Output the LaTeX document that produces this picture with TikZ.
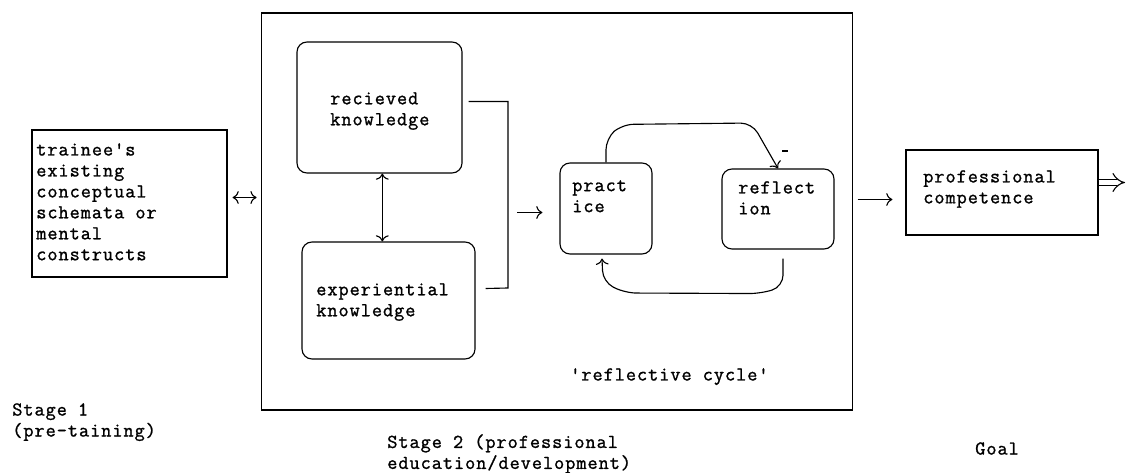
\documentclass[tikz,border=0pt]{standalone}
\usepackage{fontspec}
\newfontfamily\boxfont[LetterSpace=5, FakeBold=1.2]{Latin Modern Mono}
\usetikzlibrary{arrows.meta, positioning}

\tikzset{
  plainbox/.style={draw, line width=0.8pt, inner sep=0pt},
  roundbox/.style={plainbox, rounded corners=0.25cm},
  boxtext/.style={anchor=north west, inner sep=0pt, align=left,
    font=\boxfont\fontsize{14}{14.9}\selectfont},
  link/.style={line width=0.8pt},
  >={To[scale=1.3]}
}

\begin{document}
\begin{tikzpicture}[x=0.025cm, y=-0.025cm]
    \useasboundingbox (0,0) rectangle (1127,473);

    % Stufe 1
    \node[plainbox, minimum width=4.875cm, minimum height=3.675cm] (trainee) at (129.5,203.5) {};
    \node[boxtext] (traineetext) at (36,143) {trainee's\\existing\\conceptual\\schemata or\\mental\\constructs};

    % Stufe 2
    \node[plainbox, minimum width=14.75cm, minimum height=9.925cm] (stage) at (557,211.5) {};
    \node[roundbox, minimum width=4.125cm, minimum height=3.275cm] (rec) at (379.5,107.5) {};
    \node[boxtext] (rectext) at (330,92) {recieved\\knowledge};
    \node[roundbox, minimum width=4.325cm, minimum height=2.925cm] (exp) at (388.5,300.5) {};
    \node[boxtext] (exptext) at (316,283) {experiential\\knowledge};
    \node[roundbox, minimum width=2.3cm, minimum height=2.275cm] (prac) at (606,208.5) {};
    \node[boxtext] (practext) at (572,180) {pract\\ice};
    \node[roundbox, minimum width=2.8cm, minimum height=2cm] (refl) at (778,209) {};
    \node[boxtext] (refltext) at (738,181) {reflect\\ion};
    \node[boxtext] (cycle) at (570,368) {'reflective cycle'};

    % Ziel
    \node[plainbox, minimum width=4.8cm, minimum height=2.125cm] (prof) at (1002,192.5) {};
    \node[boxtext] (proftext) at (923,170) {professional\\competence};

    % Beschriftungen unten
    \node[boxtext] (stage1) at (12,403) {Stage 1\\(pre-taining)};
    \node[boxtext] (stage2) at (387,434) {Stage 2 (professional\\education/development)};
    \node[boxtext] (goal) at (975,442) {Goal};

    % Verbindungen
    \coordinate (profin) at ([shift={(-13,7)}]prof.west);
    \draw[link, <->] ([shift={(5,-6)}]trainee.east) -- ([shift={(29,-6)}]trainee.east);
    \draw[link, <->] ([xshift=2]rec.south) -- ([xshift=2]rec.south |- exp.north);
    \draw[link] ([shift={(6,-6)}]rec.east) -| (508,288) -- ([shift={(10,-12)}]exp.east);
    \draw[link, ->] ([shift={(-42,4)}]prac.west) -- ([shift={(-17,4)}]prac.west);
    \draw[link, ->, rounded corners=8] (prac.north) -- ++(0,-24) -- ++(16,-14) -- (752,123) -- (refl.north);
    \draw[link] (782,151) -- (788,151);
    \draw[link, ->, rounded corners=8] ([shift={(5,9)}]refl.south) -- ++(0,28) -- ++(-22,7) -- (625,293) -- (603,282) -- ([shift={(-4,4)}]prac.south);
    \draw[link, ->] (stage.east |- profin) ++(5,0) -- (profin);
    \draw[link, double, double distance=4pt, -{Implies[scale=1.2]}] ([shift={(0,-10)}]prof.east) -- (1125,182.5);
\end{tikzpicture}
\end{document}
